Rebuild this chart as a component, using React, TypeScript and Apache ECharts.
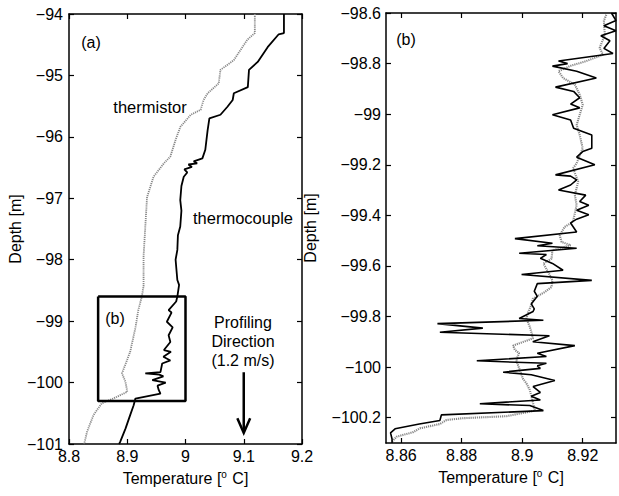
import React, { useEffect, useRef } from "react";
import * as echarts from "echarts";

// [temperature °C, depth m]
const thermocoupleA: [number, number][] = [
  [9.169,-94.0],[9.169,-94.31],[9.16,-94.33],[9.141,-94.54],[9.124,-94.78],[9.109,-94.91],[9.107,-95.19],
  [9.083,-95.29],[9.081,-95.40],[9.072,-95.51],[9.060,-95.64],[9.041,-95.70],[9.038,-95.89],[9.036,-96.05],
  [9.034,-96.21],[9.029,-96.35],[9.014,-96.40],[9.02,-96.43],[9.005,-96.45],[9.011,-96.49],[8.998,-96.53],
  [9.003,-96.58],[8.997,-96.65],[8.993,-96.8],[8.991,-97.03],[8.993,-97.2],[8.991,-97.46],[8.987,-97.6],
  [8.986,-97.84],[8.983,-98.0],[8.986,-98.33],[8.989,-98.41],[8.986,-98.60],[8.984,-98.68],[8.971,-98.82],
  [8.976,-98.86],[8.968,-99.01],[8.978,-99.1],[8.971,-99.23],[8.974,-99.34],[8.963,-99.47],[8.975,-99.5],
  [8.962,-99.58],[8.974,-99.64],[8.960,-99.69],[8.957,-99.83],[8.931,-99.85],[8.955,-99.87],[8.962,-99.9],
  [8.943,-99.96],[8.966,-100.0],[8.952,-100.05],[8.954,-100.12],[8.957,-100.18],[8.914,-100.26],
  [8.911,-100.37],[8.905,-100.53],[8.897,-100.75],[8.888,-100.96],[8.886,-101.0]
];
const thermistorA: [number, number][] = [
  [9.119,-94.0],[9.119,-94.31],[9.106,-94.42],[9.083,-94.75],[9.060,-94.91],[9.057,-95.13],[9.038,-95.29],
  [9.031,-95.40],[9.026,-95.56],[9.009,-95.64],[8.991,-95.84],[8.983,-96.05],[8.974,-96.32],[8.963,-96.43],
  [8.945,-96.65],[8.934,-96.98],[8.931,-97.46],[8.928,-97.95],[8.928,-98.43],[8.925,-98.6],[8.919,-98.82],
  [8.914,-99.11],[8.905,-99.50],[8.891,-99.85],[8.897,-99.99],[8.900,-100.15],[8.876,-100.26],[8.856,-100.34],
  [8.842,-100.53],[8.831,-100.80],[8.826,-101.0]
];
const thermocoupleB: [number, number][] = [
  [8.9295,-98.60],[8.931,-98.63],[8.927,-98.65],[8.931,-98.67],[8.926,-98.69],[8.929,-98.71],[8.927,-98.74],
  [8.930,-98.76],[8.912,-98.79],[8.915,-98.80],[8.910,-98.81],[8.918,-98.83],[8.9245,-98.857],[8.911,-98.893],
  [8.917,-98.91],[8.919,-98.935],[8.916,-98.96],[8.919,-98.975],[8.910,-99.002],[8.916,-99.023],[8.917,-99.056],
  [8.923,-99.082],[8.923,-99.135],[8.920,-99.148],[8.918,-99.17],[8.924,-99.20],[8.911,-99.24],[8.916,-99.245],
  [8.918,-99.26],[8.916,-99.28],[8.912,-99.30],[8.921,-99.32],[8.919,-99.345],[8.922,-99.36],[8.918,-99.38],
  [8.922,-99.398],[8.918,-99.415],[8.916,-99.43],[8.918,-99.466],[8.8976,-99.492],[8.910,-99.51],[8.905,-99.52],
  [8.918,-99.53],[8.899,-99.55],[8.908,-99.555],[8.906,-99.57],[8.910,-99.59],[8.9135,-99.617],[8.8998,-99.634],
  [8.923,-99.657],[8.905,-99.67],[8.904,-99.70],[8.905,-99.72],[8.903,-99.75],[8.904,-99.77],[8.9036,-99.78],
  [8.899,-99.808],[8.907,-99.815],[8.872,-99.828],[8.887,-99.846],[8.8728,-99.862],[8.909,-99.876],[8.9035,-99.90],
  [8.9174,-99.915],[8.905,-99.945],[8.908,-99.958],[8.885,-99.975],[8.908,-99.985],[8.905,-99.995],[8.906,-100.005],
  [8.8937,-100.02],[8.903,-100.03],[8.9108,-100.053],[8.9036,-100.077],[8.906,-100.10],[8.903,-100.115],
  [8.906,-100.13],[8.886,-100.145],[8.9025,-100.152],[8.907,-100.172],[8.8733,-100.189],[8.8728,-100.211],
  [8.866,-100.225],[8.858,-100.244],[8.8565,-100.26],[8.857,-100.284],[8.857,-100.3]
];
const thermistorB: [number, number][] = [
  [8.9278,-98.607],[8.927,-98.63],[8.9273,-98.686],[8.9256,-98.738],[8.9267,-98.765],[8.9212,-98.79],
  [8.9157,-98.81],[8.912,-98.83],[8.9135,-98.857],[8.9174,-98.883],[8.919,-98.923],[8.920,-98.962],
  [8.919,-99.002],[8.918,-99.043],[8.919,-99.082],[8.920,-99.135],[8.918,-99.194],[8.9168,-99.214],
  [8.9185,-99.267],[8.9174,-99.32],[8.918,-99.359],[8.9168,-99.425],[8.914,-99.446],[8.9124,-99.479],
  [8.913,-99.505],[8.916,-99.518],[8.910,-99.538],[8.9097,-99.571],[8.907,-99.591],[8.9086,-99.624],
  [8.910,-99.657],[8.9097,-99.683],[8.9075,-99.703],[8.9035,-99.73],[8.903,-99.755],[8.902,-99.782],
  [8.9014,-99.808],[8.9025,-99.84],[8.9036,-99.886],[8.897,-99.915],[8.8976,-99.932],[8.899,-99.945],
  [8.898,-99.972],[8.8992,-100.011],[8.9003,-100.047],[8.9014,-100.064],[8.9025,-100.09],[8.903,-100.113],
  [8.9036,-100.143],[8.9042,-100.172],[8.8948,-100.194],[8.8805,-100.202],[8.875,-100.209],[8.8728,-100.225],
  [8.8662,-100.242],[8.864,-100.257],[8.8585,-100.275],[8.857,-100.294]
];
const zoomBox: [number, number][] = [[8.85,-98.6],[9.0,-98.6],[9.0,-100.3],[8.85,-100.3],[8.85,-98.6]];
const arrowShaft: [number, number][] = [[9.1,-99.83],[9.1,-100.80]];
const arrowHead: [number, number][] = [[9.089,-100.58],[9.1,-100.82],[9.111,-100.58]];
const xTicksB = [8.86, 8.88, 8.9, 8.92];
const yTicksB = [-100.2, -100, -99.8, -99.6, -99.4, -99.2, -99, -98.8, -98.6];

const FONT = "Liberation Sans, Arial, Helvetica, sans-serif";
const fmt = (v: number) => String(parseFloat(Number(v).toFixed(3))).replace("-", "\u2212");

export default function App() {
  const ref = useRef<HTMLDivElement>(null);
  useEffect(() => {
    document.body.style.margin = "0";
    const chart = echarts.init(ref.current!, null, { renderer: "svg" });
    const lineAx = { show: true, onZero: false, lineStyle: { color: "#000", width: 1.5 } };
    const tick = (cv?: number[]) => ({ show: true, inside: true, length: 5, lineStyle: { color: "#000", width: 1.2 }, ...(cv ? { customValues: cv } : {}) });
    const lbl = (cv?: number[]) => ({ show: true, color: "#000", fontSize: 16, fontFamily: FONT, formatter: fmt, ...(cv ? { customValues: cv } : {}) });
    const nameStyle = {
      color: "#000", fontSize: 16, fontFamily: FONT,
      rich: { sup: { fontSize: 10, fontFamily: FONT, color: "#000", padding: [0, 1, 9, 0] } },
    };
    const tempName = "Temperature [{sup|o} C]";
    const yName = "Depth [m]";
    const gray = { color: "#888888", width: 2.1, type: [1.2, 0.9] as any };
    const black = { color: "#000", width: 1.6 };
    chart.setOption({
      animation: false,
      backgroundColor: "#fff",
      textStyle: { fontFamily: FONT },
      grid: [
        { left: 69, top: 14, width: 233, height: 430 },
        { left: 386, top: 13, width: 230, height: 430 },
      ],
      xAxis: [
        { type: "value", gridIndex: 0, min: 8.8, max: 9.2, interval: 0.1, position: "bottom", axisLine: lineAx, axisTick: tick(), axisLabel: { ...lbl(), margin: 4 }, splitLine: { show: false },
          name: tempName, nameLocation: "middle", nameGap: 25, nameTextStyle: nameStyle },
        { type: "value", gridIndex: 0, min: 8.8, max: 9.2, interval: 0.1, position: "top", axisLine: lineAx, axisTick: tick(), axisLabel: { show: false }, splitLine: { show: false } },
        { type: "value", gridIndex: 1, min: 8.855, max: 8.931, position: "bottom", axisLine: lineAx, axisTick: tick(xTicksB), axisLabel: { ...lbl(xTicksB), margin: 4 }, splitLine: { show: false },
          name: tempName, nameLocation: "middle", nameGap: 25, nameTextStyle: nameStyle },
        { type: "value", gridIndex: 1, min: 8.855, max: 8.931, position: "top", axisLine: lineAx, axisTick: tick(xTicksB), axisLabel: { show: false }, splitLine: { show: false } },
      ],
      yAxis: [
        { type: "value", gridIndex: 0, min: -101, max: -94, interval: 1, position: "left", axisLine: lineAx, axisTick: tick(), axisLabel: { ...lbl(), margin: 6 }, splitLine: { show: false },
          name: yName, nameLocation: "middle", nameRotate: 90, nameGap: 46, nameTextStyle: { color: "#000", fontSize: 16, fontFamily: FONT } },
        { type: "value", gridIndex: 0, min: -101, max: -94, interval: 1, position: "right", axisLine: lineAx, axisTick: tick(), axisLabel: { show: false }, splitLine: { show: false } },
        { type: "value", gridIndex: 1, min: -100.3, max: -98.6, position: "left", axisLine: lineAx, axisTick: tick(yTicksB), axisLabel: { ...lbl(yTicksB), margin: 5 }, splitLine: { show: false },
          name: yName, nameLocation: "middle", nameRotate: 90, nameGap: 68, nameTextStyle: { color: "#000", fontSize: 16, fontFamily: FONT } },
        { type: "value", gridIndex: 1, min: -100.3, max: -98.6, position: "right", axisLine: lineAx, axisTick: tick(yTicksB), axisLabel: { show: false }, splitLine: { show: false } },
      ],
      series: [
        { name: "thermistor", type: "line", xAxisIndex: 0, yAxisIndex: 0, data: thermistorA, showSymbol: false, lineStyle: { ...gray, width: 1.8 }, clip: true },
        { name: "thermocouple", type: "line", xAxisIndex: 0, yAxisIndex: 0, data: thermocoupleA, showSymbol: false, lineStyle: { color: "#000", width: 1.8 }, clip: true },
        { name: "box", type: "line", xAxisIndex: 0, yAxisIndex: 0, data: zoomBox, showSymbol: false, lineStyle: { color: "#000", width: 2.5 }, clip: false },
        { name: "arrowShaft", type: "line", xAxisIndex: 0, yAxisIndex: 0, data: arrowShaft, showSymbol: false, lineStyle: { color: "#000", width: 2.5 } },
        { name: "arrowHead", type: "line", xAxisIndex: 0, yAxisIndex: 0, data: arrowHead, showSymbol: false, lineStyle: { color: "#000", width: 2.5, join: "miter" } },
        { name: "thermistorB", type: "line", xAxisIndex: 2, yAxisIndex: 2, data: thermistorB, showSymbol: false, lineStyle: gray, clip: true },
        { name: "thermocoupleB", type: "line", xAxisIndex: 2, yAxisIndex: 2, data: thermocoupleB, showSymbol: false, lineStyle: black, clip: true },
      ],
      graphic: [
        { type: "text", x: 91, y: 42, style: { text: "(a)", fontSize: 16, fontFamily: FONT, fill: "#000", align: "center", verticalAlign: "middle" } },
        { type: "text", x: 150, y: 107, style: { text: "thermistor", fontSize: 16.5, fontFamily: FONT, fill: "#000", align: "center", verticalAlign: "middle" } },
        { type: "text", x: 243, y: 218, style: { text: "thermocouple", fontSize: 16.5, fontFamily: FONT, fill: "#000", align: "center", verticalAlign: "middle" } },
        { type: "text", x: 115, y: 318, style: { text: "(b)", fontSize: 16, fontFamily: FONT, fill: "#000", align: "center", verticalAlign: "middle" } },
        { type: "text", x: 243, y: 341, style: { text: "Profiling\nDirection\n(1.2 m/s)", fontSize: 16, lineHeight: 19, fontFamily: FONT, fill: "#000", align: "center", verticalAlign: "middle" } },
        { type: "text", x: 406, y: 39, style: { text: "(b)", fontSize: 16, fontFamily: FONT, fill: "#000", align: "center", verticalAlign: "middle" } },
      ],
    });
    return () => chart.dispose();
  }, []);
  return <div ref={ref} style={{ width: 619, height: 496 }} />;
}
